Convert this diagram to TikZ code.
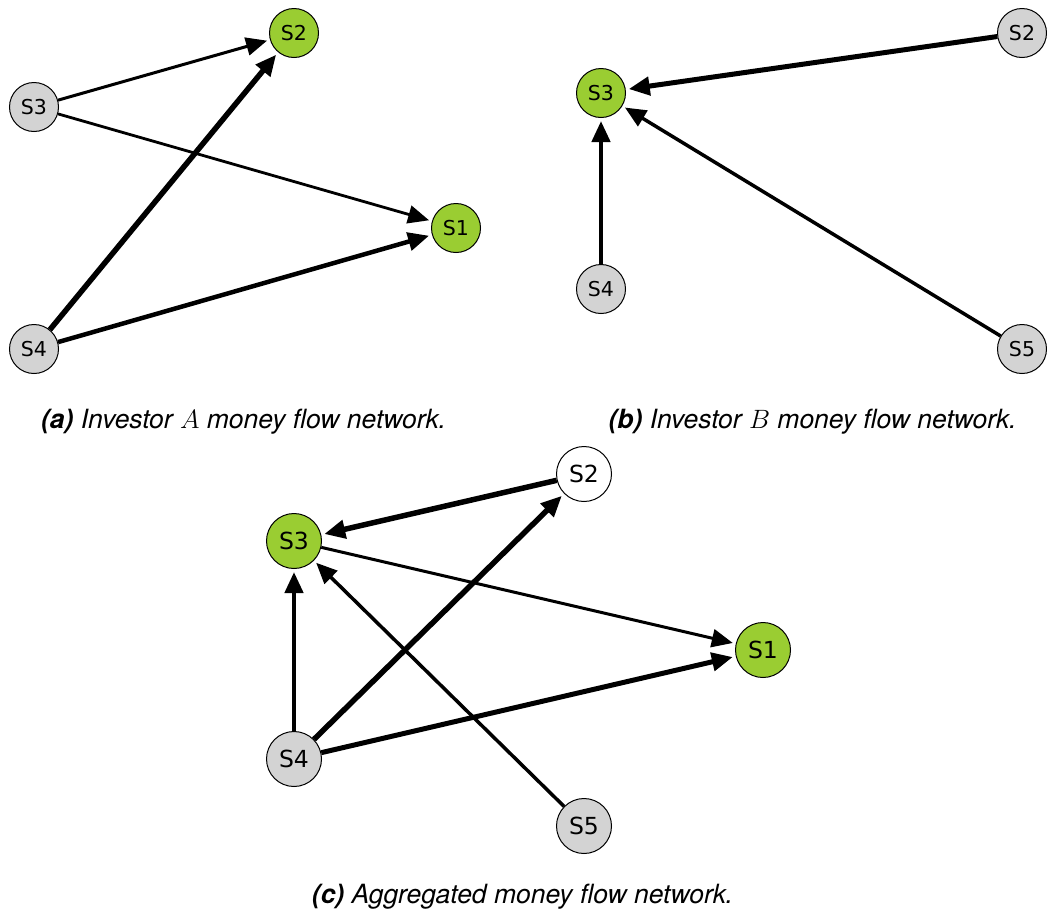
\RequirePackage{fix-cm}
\documentclass[tikz,border=0pt]{standalone}
\usepackage{fontspec}
\setmainfont{TeX Gyre Heros}
\newfontfamily\dejavu{DejaVu Sans}
\usetikzlibrary{arrows.meta}
\definecolor{ygreen}{HTML}{9ACD32}
\definecolor{lgray}{HTML}{D3D3D3}
\tikzset{
  nd/.style={circle,draw=black,line width=1pt,inner sep=0pt,minimum size=49pt,font=\dejavu\fontsize{20.5}{24}\selectfont},
  ndc/.style={nd,minimum size=55pt,font=\dejavu\fontsize{23.5}{28}\selectfont},
  grn/.style={fill=ygreen},
  gry/.style={fill=lgray},
  wht/.style={fill=white},
  edge/.style={-{Triangle[length=21pt,width=18pt]},shorten >=3pt},
  captext/.style={anchor=base,font=\fontsize{26.5}{30}\selectfont\itshape}
}
\begin{document}
\begin{tikzpicture}[x=1pt,y=-1pt]
\useasboundingbox (0,0) rectangle (1047,911);
% panel a
\node[nd,grn] (a1) at (456,228) {S1};
\node[nd,grn] (a2) at (294,33) {S2};
\node[nd,gry] (a3) at (34,107) {S3};
\node[nd,gry] (a4) at (34,349) {S4};
\draw[edge,line width=3pt] (a3) -- (a2);
\draw[edge,line width=2.8pt] (a3) -- (a1);
\draw[edge,line width=5.5pt] (a4) -- (a2);
\draw[edge,line width=4.5pt] (a4) -- (a1);
\node[captext] (capa) at (243.5,428) {{\bfseries (a)} Investor $A$ money flow network.};
% panel b
\node[nd,gry] (b2) at (1022,33) {S2};
\node[nd,grn] (b3) at (601,93) {S3};
\node[nd,gry] (b4) at (601,289) {S4};
\node[nd,gry] (b5) at (1022,349) {S5};
\draw[edge,line width=5pt] (b2) -- (b3);
\draw[edge,line width=4.5pt] (b4) -- (b3);
\draw[edge,line width=3.5pt] (b5) -- (b3);
\node[captext] (capb) at (812.5,428) {{\bfseries (b)} Investor $B$ money flow network.};
% panel c
\node[ndc,grn] (c1) at (763,650) {S1};
\node[ndc,wht] (c2) at (584,474) {S2};
\node[ndc,grn] (c3) at (294,541) {S3};
\node[ndc,gry] (c4) at (294,759) {S4};
\node[ndc,gry] (c5) at (584,826) {S5};
\draw[edge,line width=5.5pt] (c2) -- (c3);
\draw[edge,line width=3pt] (c3) -- (c1);
\draw[edge,line width=4.5pt] (c4) -- (c3);
\draw[edge,line width=5.5pt] (c4) -- (c2);
\draw[edge,line width=5pt] (c4) -- (c1);
\draw[edge,line width=3.5pt] (c5) -- (c3);
\node[captext] (capc) at (522.5,903) {{\bfseries (c)} Aggregated money flow network.};
\end{tikzpicture}
\end{document}
